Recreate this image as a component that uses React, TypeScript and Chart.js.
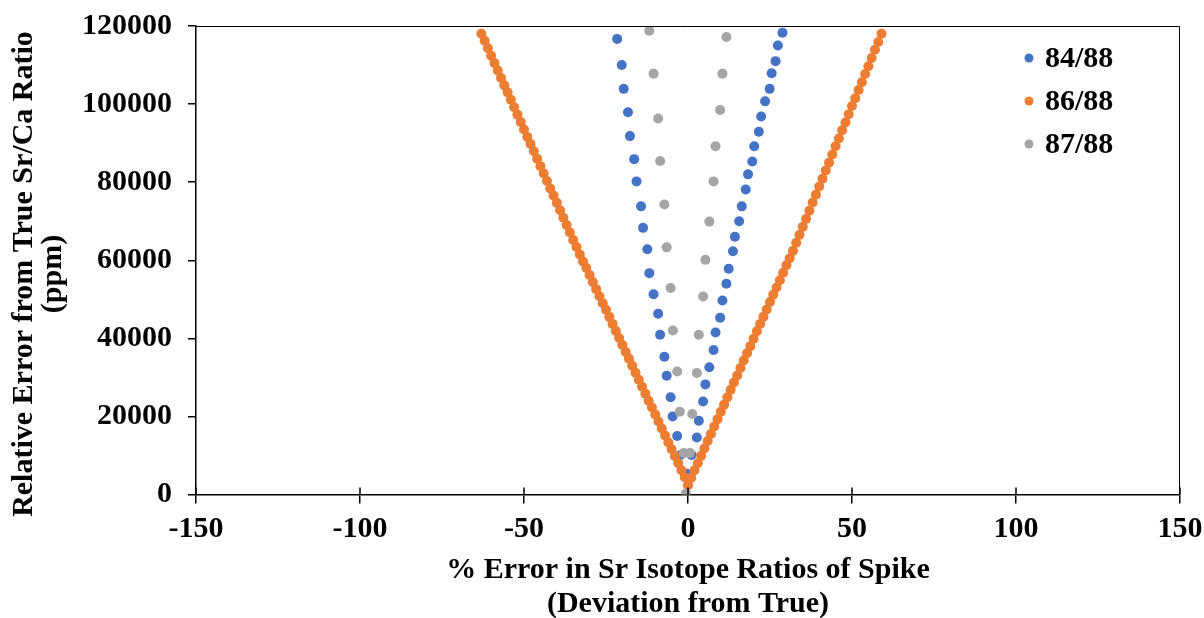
import React, { useEffect, useRef } from 'react';
import { Chart, registerables } from 'chart.js';

Chart.register(...registerables);

// ---- data ----
const seriesNames = ['84/88', '86/88', '87/88'];
const seriesColors = ['#4472C4', '#ED7D31', '#A5A5A5'];

const xTicks = [-150, -100, -50, 0, 50, 100, 150];
const yTicks = [0, 20000, 40000, 60000, 80000, 100000, 120000];

const xTitleLines = ['% Error in Sr Isotope Ratios of Spike', '(Deviation from True)'];
const yTitleLines = ['Relative Error from True Sr/Ca Ratio', '(ppm)'];

// 84/88
const sr84x = [
  -21.6, -20.2, -19.6, -18.3, -17.7, -16.4, -15.7, -14.3, -13.7, -12.4, -11.8,
  -10.5, -9.1, -8.5, -7.2, -6.5, -5.3, -4.7, -3.3, -2.3, -0.4,
  1.1, 2.7, 3.3, 4.6, 5.3, 6.5, 7.8, 8.4, 9.8, 10.5, 11.7, 12.4, 13.7, 14.3,
  15.6, 16.4, 17.6, 18.3, 19.6, 20.2, 21.6, 22.3, 23.5, 24.9, 25.5, 26.7, 27.4, 28.8,
];
const sr84y = [
  116700, 110000, 103900, 97900, 91800, 85900, 80200, 73800, 68300, 62800, 56700,
  51300, 46300, 40900, 35300, 30400, 24900, 20000, 15000, 10100, 5300,
  10100, 14600, 18900, 23800, 28200, 32600, 37000, 41500, 45300, 49700, 54000, 57800, 62300, 66000,
  70000, 73800, 78100, 82000, 85300, 89200, 92900, 96800, 100700, 103900, 107900, 111000, 115000, 118300,
];

// 86/88
const sr86x = [
  -63, -62, -61, -60, -59, -58, -57, -56, -55, -54, -53, -52, -51, -50, -49, -48,
  -47, -46, -45, -44, -43, -42, -41, -40, -39, -38, -37, -36, -35, -34, -33, -32,
  -31, -30, -29, -28, -27, -26, -25, -24, -23, -22, -21, -20, -19, -18, -17, -16,
  -15, -14, -13, -12, -11, -10, -9, -8, -7, -6, -5, -4, -3, -2, -1,
  0,
  1, 2, 3, 4, 5, 6, 7, 8, 9, 10, 11, 12, 13, 14, 15, 16, 17, 18, 19, 20,
  21, 22, 23, 24, 25, 26, 27, 28, 29, 30, 31, 32, 33, 34, 35, 36, 37, 38, 39, 40,
  41, 42, 43, 44, 45, 46, 47, 48, 49, 50, 51, 52, 53, 54, 55, 56, 57, 58, 59,
];
const sr86y = [
  118000, 116200, 114300, 112400, 110500, 108600, 106700, 104800, 103000, 101100, 99200, 97300, 95400, 93500, 91600, 89800,
  87900, 86000, 84100, 82200, 80300, 78400, 76600, 74700, 72800, 70900, 69000, 67100, 65200, 63400, 61500, 59700,
  58000, 56200, 54400, 52600, 50800, 49000, 47300, 45500, 43700, 41900, 40100, 38300, 36500, 34800, 33000, 31200,
  29400, 27600, 25800, 24000, 22300, 20500, 18700, 16900, 15100, 13300, 11600, 9800, 8000, 6200, 4400,
  2400,
  4300, 6200, 8000, 9900, 11800, 13700, 15500, 17400, 19300, 21200, 23000, 24900, 26800, 28700, 30500, 32400, 34300, 36200, 38000, 39900,
  41800, 43700, 45500, 47400, 49300, 51200, 53000, 54900, 56800, 58700, 60500, 62400, 64500, 66500, 68600, 70600, 72700, 74800, 76800, 78900,
  80900, 83000, 85000, 87100, 89200, 91200, 93300, 95300, 97400, 99500, 101500, 103600, 105600, 107700, 109700, 111800, 113900, 115900, 118000,
];

// 87/88
const sr87x = [
  -11.8, -10.5, -9.1, -8.5, -7.2, -6.5, -5.3, -4.6, -3.3, -2.5, -1.3, -0.6,
  0.6, 1.3, 2.7, 3.3, 4.6, 5.3, 6.5, 7.8, 8.4, 9.8, 10.5, 11.7,
];
const sr87y = [
  118800, 107800, 96300, 85400, 74300, 63300, 52900, 42000, 31500, 21200, 10600, 300,
  10600, 20600, 31100, 40900, 50700, 60100, 69900, 80200, 89200, 98500, 107800, 117200,
];

const FONT = '"Liberation Serif", "Times New Roman", serif';
const FONT_SIZE = 30;

const toPoints = (xs: number[], ys: number[]) => xs.map((x, i) => ({ x, y: ys[i] }));

const zeroScalePadding = (scale: any) => {
  scale.paddingTop = 0;
  scale.paddingBottom = 0;
  scale.paddingLeft = 0;
  scale.paddingRight = 0;
};

const overlayPlugin = {
  id: 'overlay',
  afterDraw(chart: any) {
    const { ctx, chartArea: a, scales } = chart;
    ctx.save();
    // plot-area frame (top and right)
    ctx.strokeStyle = '#000';
    ctx.lineWidth = 1;
    ctx.beginPath();
    ctx.moveTo(a.left, a.top + 0.5);
    ctx.lineTo(a.right - 0.5, a.top + 0.5);
    ctx.lineTo(a.right - 0.5, a.bottom);
    ctx.stroke();
    // inner half of crossing x tick marks
    ctx.lineWidth = 1.5;
    xTicks.forEach((v) => {
      const px = scales.x.getPixelForValue(v);
      ctx.beginPath();
      ctx.moveTo(px, a.bottom);
      ctx.lineTo(px, a.bottom - 7);
      ctx.stroke();
    });
    // y axis title (two rotated lines)
    ctx.fillStyle = '#000';
    ctx.font = `bold ${FONT_SIZE}px ${FONT}`;
    ctx.textAlign = 'center';
    ctx.textBaseline = 'middle';
    yTitleLines.forEach((t, i) => {
      ctx.save();
      ctx.translate(24 + i * 29, 274);
      ctx.rotate(-Math.PI / 2);
      ctx.fillText(t, 0, 0);
      ctx.restore();
    });
    // legend inside the plot area
    ctx.textAlign = 'left';
    seriesNames.forEach((name, i) => {
      const cy = 58 + i * 43;
      ctx.fillStyle = seriesColors[i];
      ctx.beginPath();
      ctx.arc(1029, cy, 4.5, 0, Math.PI * 2);
      ctx.fill();
      ctx.fillStyle = '#000';
      ctx.fillText(name, 1045, cy + 1);
    });
    ctx.restore();
  },
};

export default function App() {
  const canvasRef = useRef<HTMLCanvasElement | null>(null);

  useEffect(() => {
    document.body.style.margin = '0';
    const canvas = canvasRef.current;
    if (!canvas) return;
    const xs = [sr84x, sr86x, sr87x];
    const ys = [sr84y, sr86y, sr87y];
    const orders = [3, 2, 1];
    const chart = new Chart(canvas, {
      type: 'scatter',
      data: {
        datasets: seriesNames.map((name, i) => ({
          label: name,
          data: toPoints(xs[i], ys[i]),
          backgroundColor: seriesColors[i],
          borderColor: seriesColors[i],
          pointRadius: 5,
          pointBorderWidth: 0,
          pointHoverRadius: 5,
          showLine: false,
          order: orders[i],
        })),
      },
      options: {
        animation: false,
        responsive: false,
        devicePixelRatio: 1,
        layout: { padding: { top: 26, right: 24, bottom: 0, left: 0 } },
        plugins: {
          legend: { display: false },
          tooltip: { enabled: false },
        },
        scales: {
          x: {
            type: 'linear',
            min: -150,
            max: 150,
            afterBuildTicks: (scale: any) => {
              scale.ticks = xTicks.map((v) => ({ value: v }));
            },
            afterFit: (scale: any) => {
              scale.height = 123.5;
              zeroScalePadding(scale);
            },
            grid: {
              display: true,
              drawOnChartArea: false,
              drawTicks: true,
              tickLength: 9,
              color: '#000',
              lineWidth: 1.5,
            },
            border: { display: true, color: '#000', width: 1.5 },
            ticks: {
              color: '#000',
              padding: 8,
              maxRotation: 0,
              font: { family: FONT, size: FONT_SIZE, weight: 'bold' },
              callback: (v: any) => String(v),
            },
            title: {
              display: true,
              text: xTitleLines,
              color: '#000',
              font: { family: FONT, size: FONT_SIZE, weight: 'bold', lineHeight: 1.13 },
              padding: { top: 0, bottom: -3 },
            },
          },
          y: {
            type: 'linear',
            min: 0,
            max: 120000,
            afterBuildTicks: (scale: any) => {
              scale.ticks = yTicks.map((v) => ({ value: v }));
            },
            afterFit: (scale: any) => {
              scale.width = 196;
              zeroScalePadding(scale);
            },
            grid: {
              display: true,
              drawOnChartArea: false,
              drawTicks: true,
              tickLength: 8,
              color: '#000',
              lineWidth: 1.5,
            },
            border: { display: true, color: '#000', width: 1.5 },
            ticks: {
              color: '#000',
              padding: 16,
              font: { family: FONT, size: FONT_SIZE, weight: 'bold' },
              callback: (v: any) => String(v),
            },
            title: { display: false },
          },
        },
      },
      plugins: [overlayPlugin],
    });
    return () => chart.destroy();
  }, []);

  return (
    <div style={{ width: 1204, height: 618, background: '#fff' }}>
      <canvas ref={canvasRef} width={1204} height={618} style={{ display: 'block' }} />
    </div>
  );
}
